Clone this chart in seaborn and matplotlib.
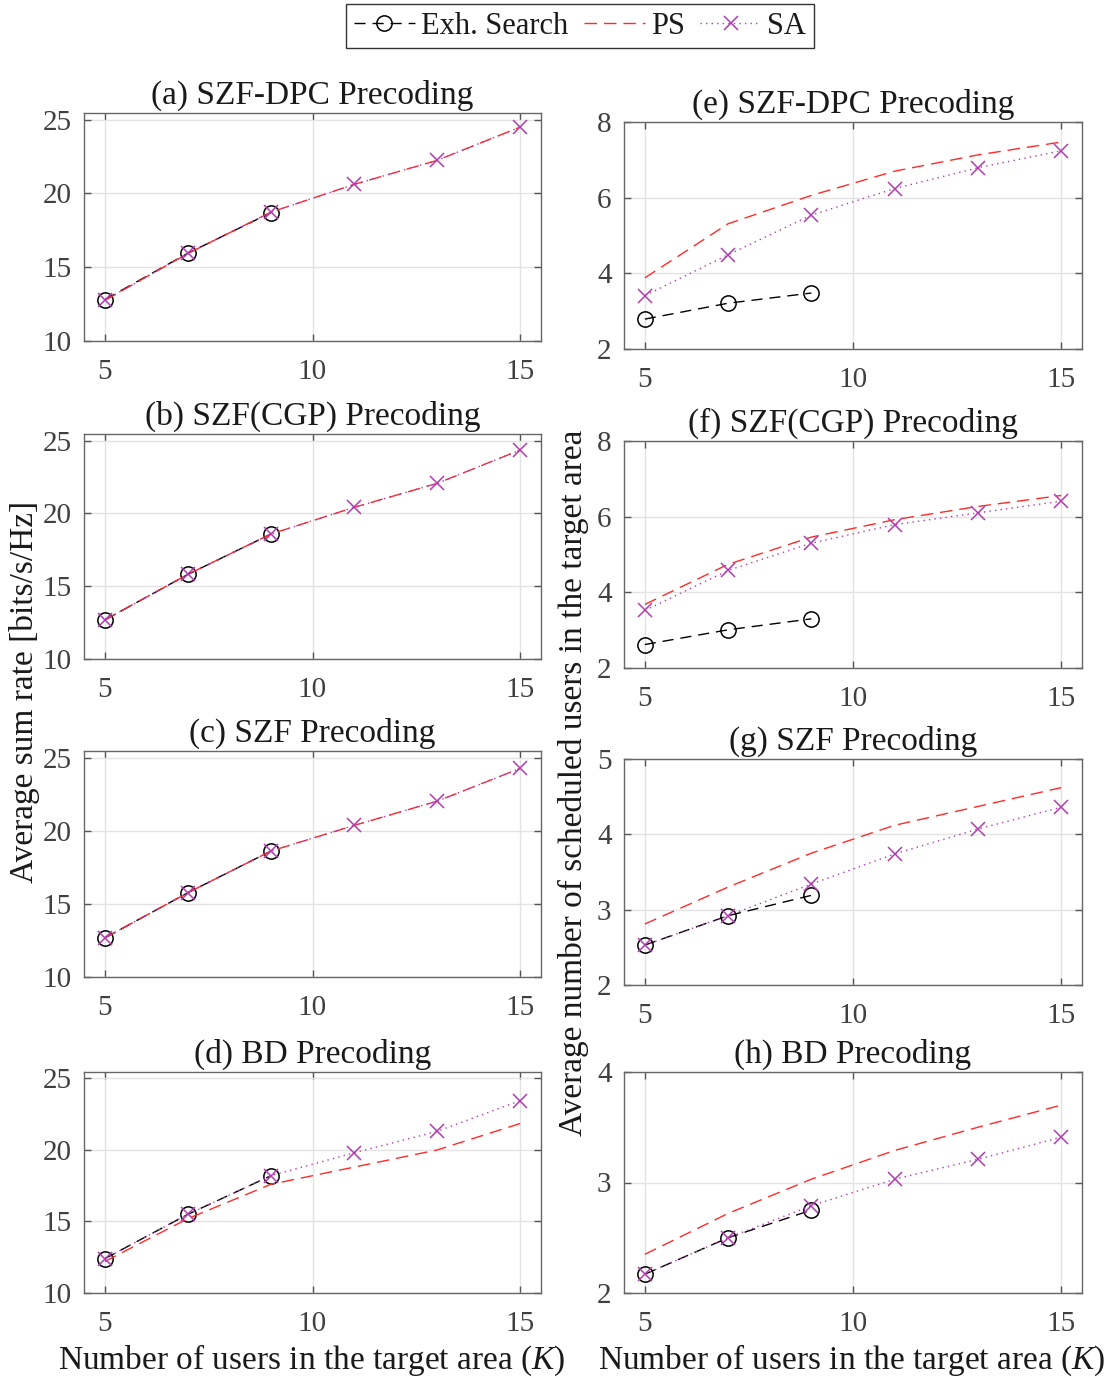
import numpy as np
import pandas as pd
import matplotlib
matplotlib.use("Agg")
import matplotlib.pyplot as plt
import seaborn as sns
from matplotlib.lines import Line2D

# Number of users in the target area
k_all = [5, 7, 9, 11, 13, 15]
k_exh = [5, 7, 9]

# Average sum rate [bits/s/Hz]
rate_exh_a = [12.8, 15.95, 18.7]
rate_ps_a = [12.75, 15.93, 18.73, 20.61, 22.24, 24.50]
rate_sa_a = [12.75, 15.93, 18.73, 20.61, 22.24, 24.50]

rate_exh_b = [12.68, 15.81, 18.58]
rate_ps_b = [12.68, 15.81, 18.58, 20.41, 22.06, 24.35]
rate_sa_b = [12.68, 15.81, 18.58, 20.41, 22.06, 24.35]

rate_exh_c = [12.67, 15.76, 18.61]
rate_ps_c = [12.67, 15.76, 18.61, 20.36, 22.02, 24.26]
rate_sa_c = [12.67, 15.76, 18.61, 20.36, 22.02, 24.26]

rate_exh_d = [12.4, 15.5, 18.2]
rate_ps_d = [12.2, 15.2, 17.6, 18.8, 20.0, 21.85]
rate_sa_d = [12.4, 15.5, 18.2, 19.8, 21.3, 23.45]

# Average number of scheduled users in the target area
users_exh_e = [2.79, 3.21, 3.48]
users_ps_e = [3.88, 5.31, 6.06, 6.70, 7.13, 7.47]
users_sa_e = [3.41, 4.49, 5.54, 6.24, 6.79, 7.24]

users_exh_f = [2.62, 3.01, 3.30]
users_ps_f = [3.68, 4.74, 5.46, 5.92, 6.27, 6.56]
users_sa_f = [3.52, 4.58, 5.30, 5.79, 6.10, 6.41]

users_exh_g = [2.53, 2.92, 3.19]
users_ps_g = [2.81, 3.30, 3.75, 4.12, 4.37, 4.62]
users_sa_g = [2.53, 2.92, 3.34, 3.74, 4.07, 4.36]

users_exh_h = [2.17, 2.50, 2.75]
users_ps_h = [2.35, 2.72, 3.03, 3.29, 3.50, 3.70]
users_sa_h = [2.17, 2.50, 2.79, 3.03, 3.21, 3.41]

titles = ["(a) SZF-DPC Precoding", "(b) SZF(CGP) Precoding", "(c) SZF Precoding",
          "(d) BD Precoding", "(e) SZF-DPC Precoding", "(f) SZF(CGP) Precoding",
          "(g) SZF Precoding", "(h) BD Precoding"]
series_names = ["Exh. Search", "PS", "SA"]

sns.set_style("ticks")
plt.rcParams["font.family"] = ["Liberation Serif", "DejaVu Serif"]
plt.rcParams["mathtext.fontset"] = "custom"
plt.rcParams["mathtext.it"] = "Liberation Serif:italic"
plt.rcParams["mathtext.rm"] = "Liberation Serif"

W, H = 1110, 1378
fig = plt.figure(figsize=(W / 100, H / 100), dpi=100)

def frac_box(left, right, top, bottom):
    return [left / W, 1 - bottom / H, (right - left) / W, (bottom - top) / H]

left_boxes = [frac_box(84, 541, 113, 341), frac_box(84, 541, 434, 659),
              frac_box(84, 541, 751, 977), frac_box(84, 541, 1072, 1293)]
right_boxes = [frac_box(624, 1082, 122, 349), frac_box(624, 1082, 441, 668),
               frac_box(624, 1082, 759, 985), frac_box(624, 1082, 1072, 1293)]

panels = [
    (left_boxes[0], rate_exh_a, rate_ps_a, rate_sa_a, (10, 25.45), [10, 15, 20, 25]),
    (left_boxes[1], rate_exh_b, rate_ps_b, rate_sa_b, (10, 25.45), [10, 15, 20, 25]),
    (left_boxes[2], rate_exh_c, rate_ps_c, rate_sa_c, (10, 25.45), [10, 15, 20, 25]),
    (left_boxes[3], rate_exh_d, rate_ps_d, rate_sa_d, (10, 25.45), [10, 15, 20, 25]),
    (right_boxes[0], users_exh_e, users_ps_e, users_sa_e, (2, 8), [2, 4, 6, 8]),
    (right_boxes[1], users_exh_f, users_ps_f, users_sa_f, (2, 8), [2, 4, 6, 8]),
    (right_boxes[2], users_exh_g, users_ps_g, users_sa_g, (2, 5), [2, 3, 4, 5]),
    (right_boxes[3], users_exh_h, users_ps_h, users_sa_h, (2, 4), [2, 3, 4]),
]

EXH_COLOR = "black"
PS_COLOR = "#ff2a2a"
SA_COLOR = "#b03cb0"
FS_TICK = 21
FS_TEXT = 24
FS_LEGEND = 22
TICK_COLOR = "#404040"
TEXT_COLOR = "#1a1a1a"

exh_style = dict(color=EXH_COLOR, linewidth=1.0, dashes=(8, 5), marker="o",
                 markersize=11, markerfacecolor="none", markeredgecolor=EXH_COLOR,
                 markeredgewidth=1.1)
ps_style = dict(color=PS_COLOR, linewidth=1.0, dashes=(9, 5))
sa_style = dict(color=SA_COLOR, linewidth=1.0, dashes=(1, 3), marker="x",
                markersize=10, markeredgecolor=SA_COLOR, markeredgewidth=1.1)

for (box, exh, ps, sa, ylim, yticks), title in zip(panels, titles):
    ax = fig.add_axes(box)
    sns.lineplot(x=k_exh, y=exh, ax=ax, **exh_style)
    sns.lineplot(x=k_all, y=ps, ax=ax, **ps_style)
    sns.lineplot(x=k_all, y=sa, ax=ax, **sa_style)
    ax.set_xlim(4.5, 15.5)
    ax.set_ylim(*ylim)
    ax.set_xticks([5, 10, 15])
    ax.set_yticks(yticks)
    ax.grid(True, color="#e3e3e3", linewidth=1.0)
    ax.set_axisbelow(True)
    ax.tick_params(direction="in", length=5, width=1, top=True, right=True,
                   labelsize=FS_TICK, colors="#555555", labelcolor=TICK_COLOR)
    ax.tick_params(axis="x", pad=13)
    ax.tick_params(axis="y", pad=9)
    for s in ax.spines.values():
        s.set_color("#666666")
        s.set_linewidth(1.0)
    ax.set_title(title, fontsize=FS_TEXT, color=TEXT_COLOR, pad=7)
    ax.set_xlabel("")
    ax.set_ylabel("")

fig.text(25 / W, 1 - 692 / H, "Average sum rate [bits/s/Hz]", rotation=90,
         ha="center", va="center", fontsize=FS_TEXT, color=TEXT_COLOR)
fig.text(573 / W, 1 - 783 / H, "Average number of scheduled users in the target area",
         rotation=90, ha="center", va="center", fontsize=FS_TEXT, color=TEXT_COLOR)
fig.text(312 / W, 1 - 1360 / H, "Number of users in the target area ($K$)",
         ha="center", va="center", fontsize=FS_TEXT, color=TEXT_COLOR)
fig.text(852 / W, 1 - 1360 / H, "Number of users in the target area ($K$)",
         ha="center", va="center", fontsize=FS_TEXT, color=TEXT_COLOR)

handles = [Line2D([], [], **exh_style), Line2D([], [], **ps_style), Line2D([], [], **sa_style)]
leg = fig.legend(handles, series_names, loc="center", bbox_to_anchor=(580 / W, 1 - 26 / H),
                 ncol=3, fontsize=FS_LEGEND, frameon=True, fancybox=False, handlelength=2.0,
                 handletextpad=0.2, columnspacing=0.5, borderpad=0.25, borderaxespad=0)
leg.get_frame().set_edgecolor("black")
leg.get_frame().set_linewidth(1.0)
for t in leg.get_texts():
    t.set_color(TEXT_COLOR)

fig.savefig("out.png", dpi=100)
